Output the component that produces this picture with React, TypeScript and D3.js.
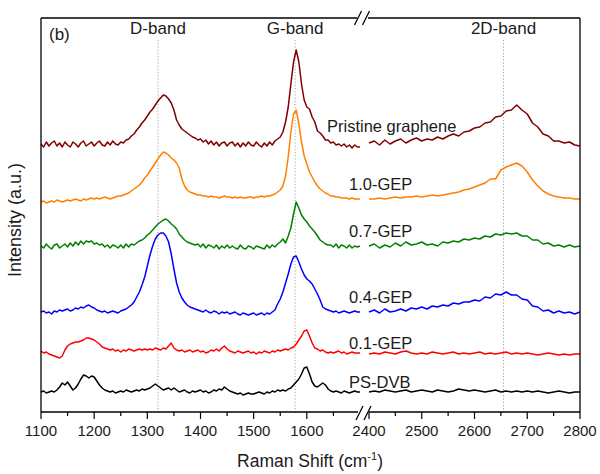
import React from "react";
import * as d3 from "d3";

// Sampling grids (Raman shift, cm-1) for the two halves of the broken axis
const leftShift = d3.range(1100, 1701, 5);
const rightShift = d3.range(2400, 2801, 10);

// Stacked intensities (a.u., offset per sample)
const pristineLeft = [
  268, 265, 270, 266, 269, 271, 266, 269, 265, 270,
  267, 265, 270, 268, 265, 269, 271, 266, 268, 270,
  266, 269, 271, 267, 266, 270, 267, 271, 268, 267,
  270, 269, 272, 273, 276, 278, 282, 285, 289, 292,
  296, 300, 303, 307, 311, 314, 317, 316, 313, 309,
  302, 292, 287, 283, 281, 279, 277, 275, 274, 272,
  273, 270, 272, 268, 271, 267, 270, 266, 269, 270,
  266, 269, 270, 266, 269, 265, 269, 266, 270, 267,
  266, 270, 267, 265, 269, 266, 270, 267, 271, 273,
  275, 280, 290, 305, 328, 350, 362, 350, 328, 312,
  305, 303, 295, 290, 281, 279, 276, 272, 272, 269,
  270, 267, 268, 266, 268, 265, 267, 264, 267, 265,
  265,
];
const pristineRight = [
  269, 271, 267, 272, 268, 271, 273, 269, 272, 274,
  271, 273, 272, 275, 273, 276, 278, 276, 280, 281,
  284, 285, 289, 290, 295, 296, 301, 302, 307, 302,
  298, 289, 285, 278, 276, 271, 271, 269, 270, 267,
  266,
];

const gep10Left = [
  210, 211, 209, 210, 211, 210, 212, 211, 210, 211,
  212, 211, 212, 213, 212, 211, 213, 212, 213, 214,
  213, 214, 213, 214, 215, 214, 213, 214, 215, 216,
  216, 217, 218, 219, 221, 223, 225, 227, 230, 234,
  237, 241, 245, 249, 253, 257, 260, 259, 257, 254,
  252, 249, 244, 233, 226, 222, 220, 219, 218, 217,
  217, 216, 216, 215, 216, 215, 215, 214, 215, 216,
  215, 215, 214, 215, 214, 215, 214, 214, 215, 215,
  214, 215, 215, 216, 215, 216, 216, 217, 218, 220,
  222, 226, 236, 255, 280, 298, 302, 288, 270, 256,
  248, 240, 235, 230, 226, 223, 221, 219, 218, 216,
  216, 215, 215, 214, 214, 214, 213, 214, 213, 213,
  213,
];
const gep10Right = [
  213, 213, 214, 213, 214, 215, 214, 215, 215, 216,
  215, 216, 217, 216, 217, 218, 219, 220, 222, 223,
  225, 227, 229, 233, 233, 242, 245, 247, 249, 246,
  240, 232, 226, 221, 218, 216, 215, 214, 214, 213,
  213,
];

const gep07Left = [
  166, 164, 168, 165, 163, 167, 168, 164, 166, 168,
  165, 169, 166, 170, 167, 171, 168, 171, 170, 171,
  168, 169, 167, 168, 165, 167, 164, 167, 166, 164,
  167, 164, 168, 165, 168, 167, 169, 171, 172, 174,
  177, 179, 182, 185, 188, 190, 192, 193, 191, 188,
  186, 183, 178, 175, 172, 170, 169, 168, 167, 168,
  165, 168, 164, 167, 166, 164, 167, 163, 166, 164,
  167, 164, 166, 164, 163, 167, 164, 163, 166, 165,
  163, 166, 165, 164, 163, 167, 164, 167, 165, 168,
  170, 173, 169, 176, 184, 198, 210, 204, 197, 193,
  190, 186, 183, 180, 176, 172, 170, 168, 167, 167,
  165, 168, 164, 167, 166, 164, 167, 164, 166, 165,
  166,
];
const gep07Right = [
  166, 168, 164, 167, 165, 169, 166, 170, 167, 168,
  170, 167, 168, 166, 170, 169, 171, 170, 173, 172,
  174, 173, 176, 175, 178, 177, 179, 178, 179, 176,
  176, 172, 172, 168, 169, 166, 167, 165, 167, 165,
  166,
];

const gep04Left = [
  100, 101, 99, 100, 98, 101, 100, 102, 101, 102,
  103, 101, 102, 104, 103, 105, 104, 106, 107, 105,
  104, 102, 101, 100, 101, 99, 100, 101, 100, 99,
  101, 102, 103, 105, 107, 110, 115, 120, 127, 135,
  146, 157, 166, 173, 177, 179, 179, 176, 170, 158,
  143, 129, 120, 114, 110, 107, 105, 104, 103, 102,
  101, 100, 102, 100, 99, 101, 100, 98, 100, 99,
  100, 98, 99, 100, 98, 97, 99, 98, 97, 98,
  99, 97, 98, 99, 97, 99, 98, 100, 102, 108,
  113, 120, 129, 138, 148, 155, 156, 150, 143, 137,
  133, 131, 128, 123, 118, 112, 105, 103, 102, 101,
  100, 101, 99, 100, 101, 100, 99, 100, 101, 100,
  100,
];
const gep04Right = [
  100, 102, 99, 103, 100, 101, 103, 101, 104, 103,
  105, 103, 106, 105, 107, 106, 109, 108, 110, 110,
  112, 111, 115, 114, 118, 117, 120, 117, 117, 113,
  112, 106, 105, 101, 102, 99, 101, 99, 100, 98,
  100,
];

const gep01Left = [
  61, 59, 60, 58, 57, 56, 55, 54, 56, 62,
  66, 68, 69, 70, 70, 71, 72, 74, 74, 73,
  72, 70, 68, 65, 64, 63, 62, 63, 61, 62,
  60, 62, 61, 63, 62, 61, 62, 63, 62, 63,
  62, 63, 62, 64, 63, 62, 64, 63, 66, 69,
  64, 62, 61, 62, 60, 61, 62, 60, 61, 62,
  60, 61, 59, 60, 62, 61, 63, 61, 64, 66,
  63, 61, 60, 59, 61, 60, 59, 60, 61, 59,
  60, 58, 60, 59, 61, 60, 59, 61, 60, 62,
  61, 62, 63, 62, 64, 65, 68, 72, 76, 81,
  82, 76, 69, 64, 63, 61, 62, 60, 59, 60,
  59, 60, 61, 59, 60, 58, 59, 60, 59, 59,
  59,
];
const gep01Right = [
  58, 59, 58, 60, 59, 58, 60, 61, 59, 58,
  59, 58, 60, 59, 58, 59, 60, 58, 59, 58,
  59, 60, 58, 59, 58, 59, 60, 58, 59, 58,
  59, 58, 57, 58, 59, 58, 57, 58, 57, 58,
  58,
];

const psdvbLeft = [
  20, 21, 19, 20, 21, 20, 22, 25, 29, 27,
  30, 26, 22, 24, 28, 33, 37, 36, 34, 36,
  35, 31, 27, 24, 22, 21, 20, 21, 19, 20,
  21, 20, 22, 21, 20, 21, 22, 21, 23, 22,
  23, 24, 26, 28, 26, 24, 22, 23, 24, 22,
  24, 22, 20, 21, 22, 20, 19, 21, 20, 21,
  22, 20, 21, 19, 20, 22, 21, 23, 22, 25,
  23, 21, 20, 19, 18, 19, 17, 18, 19, 18,
  18, 19, 20, 19, 18, 20, 19, 21, 20, 22,
  21, 22, 21, 23, 24, 27, 30, 33, 38, 44,
  45, 38, 30, 26, 25, 27, 29, 27, 23, 21,
  20, 21, 20, 19, 21, 20, 19, 20, 21, 20,
  20,
];
const psdvbRight = [
  20, 21, 20, 22, 21, 20, 21, 22, 20, 21,
  22, 21, 20, 22, 21, 20, 21, 23, 22, 21,
  22, 21, 20, 21, 22, 20, 21, 20, 21, 20,
  21, 20, 21, 20, 19, 20, 21, 20, 19, 20,
  20,
];

const seriesNames = ["Pristine graphene", "1.0-GEP", "0.7-GEP", "0.4-GEP", "0.1-GEP", "PS-DVB"];
const seriesLeft = [pristineLeft, gep10Left, gep07Left, gep04Left, gep01Left, psdvbLeft];
const seriesRight = [pristineRight, gep10Right, gep07Right, gep04Right, gep01Right, psdvbRight];
const seriesColors = ["#800000", "#FF8000", "#008000", "#0000FF", "#FF0000", "#000000"];

// Band positions (cm-1) and their labels
const bandNames = ["D-band", "G-band", "2D-band"];
const bandShifts = [1320, 1578, 2655];

const leftMajor = [1100, 1200, 1300, 1400, 1500, 1600];
const leftMinor = [1150, 1250, 1350, 1450, 1550, 1650];
const rightMajor = [2400, 2500, 2600, 2700, 2800];
const rightMinor = [2450, 2550, 2650, 2750];

const W = 600;
const H = 474;
const plot = { left: 41, right: 580, top: 18, bottom: 412 };
const breakL = 360;
const breakR = 369;
const FONT = "'Liberation Sans', Arial, Helvetica, sans-serif";
const TEXT = "#1a1a1a";

// Label placement for each curve: [x, baseline]
const labelPos: [number, number][] = [
  [327, 132],
  [349, 190],
  [349, 237],
  [349, 303],
  [349, 349],
  [349, 388],
];

export default function App() {
  const xL = d3.scaleLinear().domain([1100, 1700]).range([plot.left, breakL]);
  const xR = d3.scaleLinear().domain([2400, 2800]).range([breakR, plot.right]);
  const y = d3.scaleLinear().domain([0, 394]).range([plot.bottom, plot.top]);

  const xAny = (v: number) => (v < 2000 ? xL(v) : xR(v));

  const lineL = d3
    .line<number>()
    .x((_, i) => xL(leftShift[i]))
    .y((d) => y(d));
  const lineR = d3
    .line<number>()
    .x((_, i) => xR(rightShift[i]))
    .y((d) => y(d));

  const majors = [...leftMajor.map((v) => xL(v)), ...rightMajor.map((v) => xR(v))];
  const majorLabels = [...leftMajor, ...rightMajor];
  const minors = [...leftMinor.map((v) => xL(v)), ...rightMinor.map((v) => xR(v))];

  const slash = (cx: number, cy: number, key: string) => (
    <line
      key={key}
      x1={cx - 3.5}
      y1={cy + 7}
      x2={cx + 3.5}
      y2={cy - 7}
      stroke="#000"
      strokeWidth={1.2}
    />
  );

  return (
    <svg
      width={W}
      height={H}
      style={{ position: "absolute", left: 0, top: 0, background: "#fff" }}
      fontFamily={FONT}
    >
      <rect width={W} height={H} fill="#fff" />

      {/* band reference lines */}
      {bandShifts.map((b, i) => (
        <line
          key={"band" + i}
          x1={xAny(b)}
          x2={xAny(b)}
          y1={40}
          y2={plot.bottom}
          stroke="#9a9a9a"
          strokeWidth={0.9}
          strokeDasharray="1.2,2"
        />
      ))}

      {/* spectra */}
      {seriesLeft.map((s, i) => (
        <g key={"s" + i} fill="none" stroke={seriesColors[i]} strokeWidth={1.5} strokeLinejoin="round">
          <path d={lineL(s) ?? ""} />
          <path d={lineR(seriesRight[i]) ?? ""} />
        </g>
      ))}

      {/* frame */}
      <g stroke="#000" strokeWidth={1.3} fill="none">
        <line x1={plot.left} x2={plot.left} y1={plot.top} y2={plot.bottom} />
        <line x1={plot.right} x2={plot.right} y1={plot.top} y2={plot.bottom} />
        <line x1={plot.left} x2={357} y1={plot.top} y2={plot.top} />
        <line x1={368} x2={plot.right} y1={plot.top} y2={plot.top} />
        <line x1={plot.left} x2={358} y1={plot.bottom} y2={plot.bottom} />
        <line x1={369} x2={plot.right} y1={plot.bottom} y2={plot.bottom} />
      </g>
      {slash(358, plot.top, "t1")}
      {slash(366, plot.top, "t2")}
      {slash(359.5, plot.bottom + 1, "b1")}
      {slash(367.5, plot.bottom + 1, "b2")}

      {/* ticks */}
      {majors.map((x, i) => (
        <line key={"M" + i} x1={x} x2={x} y1={plot.bottom} y2={plot.bottom + 7} stroke="#000" strokeWidth={1.2} />
      ))}
      {minors.map((x, i) => (
        <line key={"m" + i} x1={x} x2={x} y1={plot.bottom} y2={plot.bottom + 4} stroke="#000" strokeWidth={1.2} />
      ))}
      {majors.map((x, i) => (
        <text key={"L" + i} x={x} y={436} textAnchor="middle" fontSize={15} fill={TEXT}>
          {majorLabels[i]}
        </text>
      ))}

      {/* axis titles */}
      <text x={310} y={467} textAnchor="middle" fontSize={17.5} fill={TEXT}>
        Raman Shift (cm
        <tspan fontSize={11} dy={-7}>-1</tspan>
        <tspan dy={7}>)</tspan>
      </text>
      <text
        transform="translate(21,220) rotate(-90)"
        textAnchor="middle"
        fontSize={18}
        fill={TEXT}
      >
        Intensity (a.u.)
      </text>

      {/* panel tag and band names */}
      <text x={49} y={40} fontSize={17} fill={TEXT}>
        (b)
      </text>
      {bandNames.map((b, i) => (
        <text key={"bn" + i} x={xAny(bandShifts[i])} y={34} textAnchor="middle" fontSize={17} fill={TEXT}>
          {b}
        </text>
      ))}

      {/* curve labels */}
      {seriesNames.map((n, i) => (
        <text key={"n" + i} x={labelPos[i][0]} y={labelPos[i][1]} fontSize={16.5} fill={TEXT}>
          {n}
        </text>
      ))}
    </svg>
  );
}
